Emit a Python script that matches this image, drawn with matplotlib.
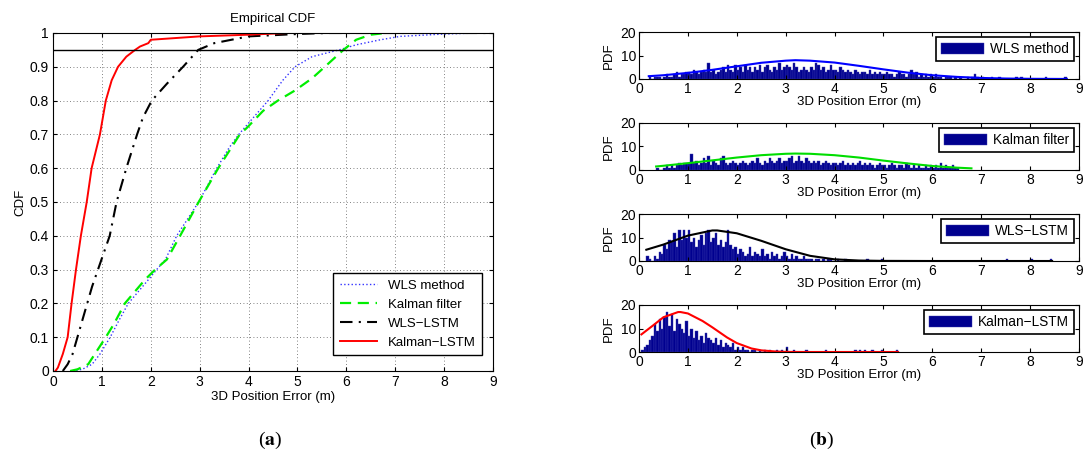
import numpy as np
import matplotlib
matplotlib.use('Agg')
import matplotlib.pyplot as plt

plt.rcParams['font.family'] = ['Liberation Sans', 'DejaVu Sans']

# ---- left panel: empirical CDF curves (x, F(x))
wls_x = [0.4, 0.6, 0.8, 0.96, 1.17, 1.35, 1.54, 1.95, 2.12, 2.3, 2.53, 2.98, 3.35, 3.6, 3.8,
         4.1, 4.4, 4.7, 4.95, 5.3, 5.85, 6.2, 6.7, 7.1, 8.0, 8.7]
wls_y = [0, 0.005, 0.02, 0.05, 0.1, 0.15, 0.2, 0.27, 0.3, 0.33, 0.4, 0.5, 0.6, 0.66, 0.7,
         0.75, 0.8, 0.86, 0.9, 0.93, 0.95, 0.965, 0.98, 0.99, 0.997, 1.0]
kal_x = [0.35, 0.5, 0.72, 0.9, 1.08, 1.25, 1.47, 1.88, 2.09, 2.33, 2.6, 2.98, 3.38, 3.82, 3.97,
         4.3, 4.6, 4.95, 5.3, 5.56, 5.94, 6.2, 6.5, 6.8]
kal_y = [0, 0.005, 0.02, 0.06, 0.1, 0.14, 0.2, 0.27, 0.3, 0.33, 0.4, 0.5, 0.6, 0.7, 0.72,
         0.77, 0.8, 0.83, 0.866, 0.9, 0.95, 0.98, 0.995, 1.0]
wlstm_x = [0.2, 0.3, 0.4, 0.5, 0.6, 0.7, 0.8, 0.92, 1.04, 1.16, 1.3, 1.5, 1.72, 1.84, 2.02,
           2.33, 2.66, 2.97, 3.3, 4.0, 5.0, 5.6, 9.0]
wlstm_y = [0, 0.02, 0.05, 0.1, 0.15, 0.2, 0.25, 0.3, 0.35, 0.4, 0.5, 0.6, 0.7, 0.75, 0.8,
           0.85, 0.9, 0.95, 0.97, 0.99, 0.997, 1.0, 1.0]
klstm_x = [0.05, 0.1, 0.2, 0.3, 0.38, 0.47, 0.57, 0.69, 0.79, 0.96, 1.08, 1.2, 1.33, 1.5,
           1.68, 1.78, 1.95, 2.0, 2.5, 3.0, 4.0, 4.8, 5.25]
klstm_y = [0, 0.01, 0.05, 0.1, 0.2, 0.3, 0.4, 0.5, 0.6, 0.7, 0.8, 0.86, 0.9, 0.93,
           0.95, 0.96, 0.97, 0.98, 0.985, 0.99, 0.995, 1.0, 1.0]

# ---- right panels: histogram bins (width 0.05) and fitted curves
bin_w = 0.05
wls_start = 0.2
wls_hist = [1, 0, 1, 1, 1, 0, 1, 2, 1, 1, 2, 3, 1, 2, 2, 3,
            3, 2, 4, 3, 2, 3, 4, 3, 7, 3, 4, 2, 3, 4, 5, 3, 6, 4, 3, 6,
            4, 5, 3, 6, 4, 5, 3, 5, 4, 6, 3, 5, 6, 4, 3, 5, 4, 7, 4, 5,
            6, 5, 4, 7, 5, 3, 4, 5, 4, 3, 5, 4, 7, 6, 4, 5, 3, 4, 6, 4,
            4, 3, 5, 4, 3, 4, 3, 2, 4, 3, 2, 3, 3, 2, 4, 2, 3, 2, 3, 2,
            2, 3, 2, 2, 1, 2, 3, 2, 2, 1, 2, 4, 2, 3, 1, 2, 1, 2, 1, 2,
            1, 2, 1, 1, 0, 1, 1, 1, 0, 1, 0, 1, 0, 0, 1, 0, 1, 2, 1, 0,
            1, 0, 0, 0, 1, 0, 0, 1, 0, 0, 0, 0, 0, 0, 1, 0, 1, 0, 0, 0,
            0, 0, 0, 0, 0, 0, 1, 0, 0, 0, 0, 0, 0, 0, 1]
kal_start = 0.35
kal_hist = [1, 0, 0, 1, 2, 1, 2, 1, 2, 3, 2, 3, 3,
            3, 7, 3, 4, 2, 3, 5, 3, 6, 2, 4, 3, 2, 5, 6, 3, 2, 3, 4, 3,
            2, 3, 4, 3, 2, 3, 4, 3, 5, 3, 2, 4, 3, 5, 4, 3, 4, 5, 3, 4,
            4, 5, 6, 3, 4, 6, 4, 3, 5, 4, 3, 4, 3, 4, 2, 3, 4, 3, 2, 3,
            3, 2, 3, 4, 2, 3, 2, 3, 2, 3, 4, 2, 3, 2, 3, 2, 1, 2, 3, 2,
            2, 1, 2, 3, 2, 1, 2, 2, 1, 3, 2, 1, 2, 1, 2, 1, 1, 2, 1, 2,
            1, 2, 1, 3, 1, 2, 1, 1, 2, 1, 1]
wlstm_start = 0.15
wlstm_hist = [2, 1, 0, 2, 1, 4, 3,
              7, 5, 9, 8, 12, 6, 13, 9, 13, 10,
              13, 8, 10, 6, 9, 11, 7, 12, 13, 8,
              10, 12, 7, 9, 6, 8, 13, 7, 5, 6,
              3, 5, 4, 2, 3, 6, 2, 4, 3, 2,
              5, 2, 3, 1, 4, 2, 3, 1, 2, 4,
              2, 1, 3, 1, 2, 1, 1, 2, 1, 1,
              1, 0, 1, 1, 0, 1, 0, 1, 1, 0,
              0, 1, 0, 0, 1, 0, 0, 0, 0, 0,
              0, 0, 0, 1, 0, 0, 0, 0, 0, 1,
              0, 0, 0, 0, 0, 0, 0, 0, 0, 0, 0, 0, 0, 0, 0, 0, 0, 0, 0, 0,
              0, 0, 0, 0, 0, 0, 0, 0, 0, 0, 0, 0, 0, 0, 0, 0, 0, 0, 0, 0,
              0, 0, 0, 0, 0, 0, 0, 0, 0, 0, 1, 0, 0, 0, 0, 0, 0, 0, 0, 0,
              1, 0, 0, 0, 0, 0, 0, 0, 1]
klstm_start = 0.05
klstm_hist = [1, 2, 3, 5, 7, 12, 9, 14, 10,
              15, 17, 11, 16, 9, 14, 12, 10, 8, 13,
              7, 10, 6, 9, 5, 7, 4, 8, 6, 5,
              4, 6, 3, 5, 2, 4, 3, 2, 4, 1,
              2, 1, 2, 1, 1, 0, 1, 1, 0, 1,
              0, 1, 0, 1, 0, 0, 1, 0, 1, 0,
              2, 0, 0, 1, 0, 0, 0, 0, 1, 0,
              0, 0, 0, 0, 0, 0, 1, 0, 0, 0,
              0, 0, 0, 0, 0, 0, 0, 0, 1, 0,
              1, 0, 1, 0, 0, 1, 0, 0, 0, 1,
              0, 0, 0, 0, 0, 1]

wls_fit_x = [0.2, 0.5, 1.0, 1.5, 2.0, 2.5, 3.0, 3.2, 3.5, 4.0, 4.5, 5.0, 5.5, 6.0, 6.5, 7.0, 7.5, 8.0, 8.75]
wls_fit_y = [1.2, 1.6, 2.6, 3.9, 5.4, 6.9, 7.8, 8.0, 7.8, 7.0, 5.6, 4.1, 2.7, 1.6, 0.9, 0.45, 0.2, 0.08, 0.02]
kal_fit_x = [0.35, 0.5, 1.0, 1.5, 2.0, 2.5, 3.0, 3.2, 3.5, 4.0, 4.5, 5.0, 5.5, 6.0, 6.5, 6.8]
kal_fit_y = [1.5, 1.8, 2.9, 4.1, 5.3, 6.3, 6.9, 7.0, 6.9, 6.3, 5.3, 4.0, 2.8, 1.7, 1.0, 0.7]
wlstm_fit_x = [0.15, 0.5, 1.0, 1.5, 1.6, 2.0, 2.5, 3.0, 3.5, 4.0, 4.5, 5.0, 6.0, 7.0, 8.45]
wlstm_fit_y = [4.8, 7.0, 10.8, 13.0, 13.0, 11.8, 8.6, 5.0, 2.2, 0.7, 0.2, 0.05, 0, 0, 0]
klstm_fit_x = [0.05, 0.3, 0.5, 0.8, 0.85, 1.0, 1.3, 1.5, 1.8, 2.0, 2.3, 2.5, 2.8, 3.0, 3.5, 5.3]
klstm_fit_y = [7.5, 11.5, 14.8, 17.0, 17.0, 16.4, 13.2, 10.5, 6.2, 3.8, 1.5, 0.7, 0.2, 0.05, 0, 0]

labels = ['WLS method', 'Kalman filter', 'WLS\u2212LSTM', 'Kalman\u2212LSTM']

W, H = 1083, 457
fig = plt.figure(figsize=(W / 100, H / 100), dpi=100)

# ---------------- (a) CDF
ax = fig.add_axes([53 / W, 1 - 371 / H, 440 / W, 338 / H])
ax.plot(wls_x, wls_y, color='#3333ff', ls=':', lw=1.0, label=labels[0])
ax.plot(kal_x, kal_y, color='#00ee00', ls=(0, (5, 3)), lw=1.6, label=labels[1])
ax.plot(wlstm_x, wlstm_y, color='k', ls=(0, (6, 3, 1, 3)), lw=1.5, label=labels[2])
ax.plot(klstm_x, klstm_y, color='#ff0000', ls='-', lw=1.4, label=labels[3])
ax.axhline(0.95, color='k', lw=1.0)
ax.set_xlim(0, 9)
ax.set_ylim(0, 1)
ax.set_xticks(range(10))
ax.set_yticks(np.arange(0, 1.01, 0.1))
ax.set_yticklabels(['0', '0.1', '0.2', '0.3', '0.4', '0.5', '0.6', '0.7', '0.8', '0.9', '1'])
ax.grid(True, color='0.35', ls=(0, (1, 3)), lw=0.6)
ax.tick_params(direction='in', top=True, right=True, labelsize=10, length=3, pad=3)
ax.set_title('Empirical CDF', fontsize=9.5, pad=8)
ax.set_xlabel('3D Position Error (m)', fontsize=9.5, labelpad=1)
ax.set_ylabel('CDF', fontsize=9.5, labelpad=2)
leg = ax.legend(loc='lower right', bbox_to_anchor=(0.975, 0.047), borderaxespad=0,
                fontsize=9.5, fancybox=False, framealpha=1, edgecolor='k',
                handlelength=2.8, labelspacing=0.5, borderpad=0.5)
leg.get_frame().set_linewidth(1.0)
for s in ax.spines.values():
    s.set_linewidth(0.8)

# ---------------- (b) PDFs
panels = [
    (wls_start, wls_hist, wls_fit_x, wls_fit_y, '#0000ff', labels[0], 79),
    (kal_start, kal_hist, kal_fit_x, kal_fit_y, '#00dd00', labels[1], 170),
    (wlstm_start, wlstm_hist, wlstm_fit_x, wlstm_fit_y, 'k', labels[2], 261),
    (klstm_start, klstm_hist, klstm_fit_x, klstm_fit_y, '#ff0000', labels[3], 352),
]
for start, hist, fx, fy, col, lab, bot in panels:
    a = fig.add_axes([639 / W, 1 - bot / H, 440 / W, 47 / H])
    centers = start + bin_w * (np.arange(len(hist)) + 0.5)
    a.bar(centers, hist, width=bin_w, color='#00008f', edgecolor='#3a3ab0',
          linewidth=0.3, label=lab)
    a.plot(fx, fy, color=col, lw=1.5)
    a.set_xlim(0, 9)
    a.set_ylim(0, 20)
    a.set_xticks(range(10))
    a.set_yticks([0, 10, 20])
    a.tick_params(direction='in', top=True, right=True, labelsize=10, length=3, pad=2)
    a.set_xlabel('3D Position Error (m)', fontsize=9.5, labelpad=0)
    a.set_ylabel('PDF', fontsize=9.5, labelpad=4)
    lg = a.legend(loc='upper right', fontsize=9.8, fancybox=False, framealpha=1,
                  edgecolor='k', handlelength=3.2, handleheight=0.9,
                  borderaxespad=0.4, borderpad=0.35, handletextpad=0.4)
    lg.get_frame().set_linewidth(1.2)
    for s in a.spines.values():
        s.set_linewidth(0.8)

plt.rcParams['mathtext.fontset'] = 'stix'
fig.text(270 / W, 1 - 440 / H, r'($\mathbf{a}$)', fontsize=14, ha='center', va='center',
         family='Liberation Serif')
fig.text(822 / W, 1 - 440 / H, r'($\mathbf{b}$)', fontsize=14, ha='center', va='center',
         family='Liberation Serif')

fig.savefig('out.png', dpi=100)
